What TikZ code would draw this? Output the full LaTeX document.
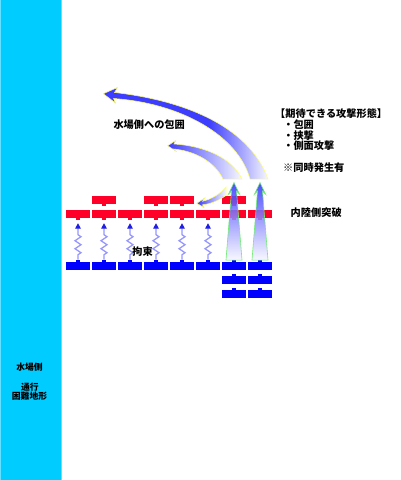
\documentclass[tikz,border=0pt]{standalone}
\usepackage{fontspec}
\setmainfont{Noto Sans CJK JP}
\usetikzlibrary{arrows.meta}
\definecolor{seacyan}{RGB}{0,204,255}
\definecolor{unitred}{RGB}{255,0,40}
\definecolor{unitblue}{RGB}{0,0,255}
\definecolor{arrblue}{RGB}{45,45,255}
\definecolor{paleend}{RGB}{248,248,255}
\definecolor{springc}{RGB}{150,150,255}
\definecolor{springhead}{RGB}{30,30,230}
\definecolor{edgegreen}{RGB}{110,240,110}
\definecolor{edgeyellow}{RGB}{255,255,110}
\pgfdeclarehorizontalshading{longfade}{100bp}{color(0bp)=(arrblue); color(25bp)=(arrblue); color(57bp)=(arrblue); color(75bp)=(paleend); color(100bp)=(paleend)}
\begin{document}
\begin{tikzpicture}[x=1pt,y=-1pt,
  unitbox/.style={rectangle,minimum width=24pt,minimum height=7.8pt,inner sep=0pt,outer sep=0pt},
  redunit/.style={unitbox,fill=unitred},
  blueunit/.style={unitbox,fill=unitblue},
  lbl/.style={inner sep=0pt,font=\bfseries\fontsize{10.2}{12}\selectfont},
  smalllbl/.style={inner sep=0pt,font=\bfseries\fontsize{8.8}{8.8}\selectfont},
  springline/.style={draw=springc,line width=1.3pt,line join=miter,-{Triangle[width=5.5pt,length=5.5pt,color=springhead]}},
  pushshade/.style={top color=arrblue,bottom color=paleend,draw=edgegreen,line width=0.6pt,fill opacity=0.85},
  curveshade/.style={draw=edgeyellow,line width=0.5pt,fill opacity=0.92}]
\useasboundingbox (0,0) rectangle (400,480);
\fill[white] (0,0) rectangle (400,480);
% water-side strip
\path[fill=seacyan,draw=seacyan!60!white,line width=1pt] (0.75,-2) rectangle (61.25,482);
% units
\foreach \i in {1,...,8}{
  \pgfmathsetmacro\cx{78+26*(\i-1)}
  \node[redunit] (r\i) at (\cx,213.75) {};
  \node[blueunit] (b\i) at (\cx,265.6) {};
  \fill[unitred] ([xshift=-2pt]r\i.south) rectangle ([xshift=2pt,yshift=-2pt]r\i.south);
  \fill[unitblue] ([xshift=-2pt]b\i.north) rectangle ([xshift=2pt,yshift=2pt]b\i.north);
}
\foreach \i in {2,4,5,7}{
  \pgfmathsetmacro\cx{78+26*(\i-1)}
  \node[redunit] (rb\i) at (\cx,199.75) {};
  \fill[unitred] ([xshift=-2pt]rb\i.south) rectangle ([xshift=2pt,yshift=-2pt]rb\i.south);
}
\foreach \i in {7,8}{
  \pgfmathsetmacro\cx{78+26*(\i-1)}
  \node[blueunit] (bb\i) at (\cx,280) {};
  \node[blueunit] (bc\i) at (\cx,294) {};
  \fill[unitblue] ([xshift=-2pt]bb\i.north) rectangle ([xshift=2pt,yshift=2pt]bb\i.north);
  \fill[unitblue] ([xshift=-2pt]bc\i.north) rectangle ([xshift=2pt,yshift=2pt]bc\i.north);
}
% holding springs
\foreach \i in {1,...,6}{
  \draw[springline] ([yshift=2pt]b\i.north) -- ++(0,-5) -- ++(3,-2) -- ++(-6,-4) -- ++(6,-4) -- ++(-6,-4) -- ++(6,-4) -- ++(-3,-2) -- ([yshift=-5.5pt]r\i.south);
}
% breakthrough arrows
\foreach \i in {7,8}{
  \shadedraw[pushshade] ([xshift=-8pt,yshift=1.6pt]b\i.north) -- ([xshift=-2.5pt,yshift=70.6pt]b\i.north) -- ([xshift=-5.5pt,yshift=67.6pt]b\i.north) -- ([yshift=79.1pt]b\i.north) -- ([xshift=5.5pt,yshift=67.6pt]b\i.north) -- ([xshift=2.5pt,yshift=70.6pt]b\i.north) -- ([xshift=8pt,yshift=1.6pt]b\i.north) -- cycle;
}
% envelopment arrows
\shadedraw[curveshade,shading=longfade] (103.3,93.7) -- (117.5,87.5) -- (114.5,92.5) .. controls (180,100) and (248,124) .. (268,179) -- (250,179) .. controls (238,135) and (180,103) .. (113.5,98.5) -- (115.5,103) -- cycle;
\shadedraw[curveshade,left color=arrblue,right color=paleend] (167.7,145.7) -- (175.7,140.5) -- (174,144) .. controls (205,146) and (232,158) .. (242,179) -- (223,179) .. controls (215,162) and (195,151) .. (174,149) -- (176.7,151.7) -- cycle;
\shadedraw[curveshade,left color=arrblue,right color=paleend] (196.8,203.3) -- (205,197.8) -- (202.5,201.3) .. controls (212,199) and (220,194) .. (226,187) -- (226,195.5) .. controls (218,201) and (210,204) .. (202.5,204.8) -- (204,207.5) -- cycle;
% labels
\node[lbl,anchor=west] (hdr) at (275,113.7) {【期待できる攻撃形態】};
\node[lbl,anchor=west] (it1) at (283.1,124.5) {・包囲};
\node[lbl,anchor=west] (it2) at (283.1,135.2) {・挟撃};
\node[lbl,anchor=west] (it3) at (283.1,145.9) {・側面攻撃};
\node[lbl,anchor=west] (note) at (283,167.5) {※同時発生有};
\node[lbl,anchor=west] (brk) at (290.5,212.4) {内陸側突破};
\node[lbl] (env) at (149.2,124.2) {水場側への包囲};
\node[lbl] (hold) at (142.5,251.4) {拘束};
\node[smalllbl] (w1) at (29.5,367.5) {水場側};
\node[smalllbl] (w2) at (30,387) {通行};
\node[smalllbl] (w3) at (29.5,396.5) {困難地形};
\end{tikzpicture}
\end{document}
